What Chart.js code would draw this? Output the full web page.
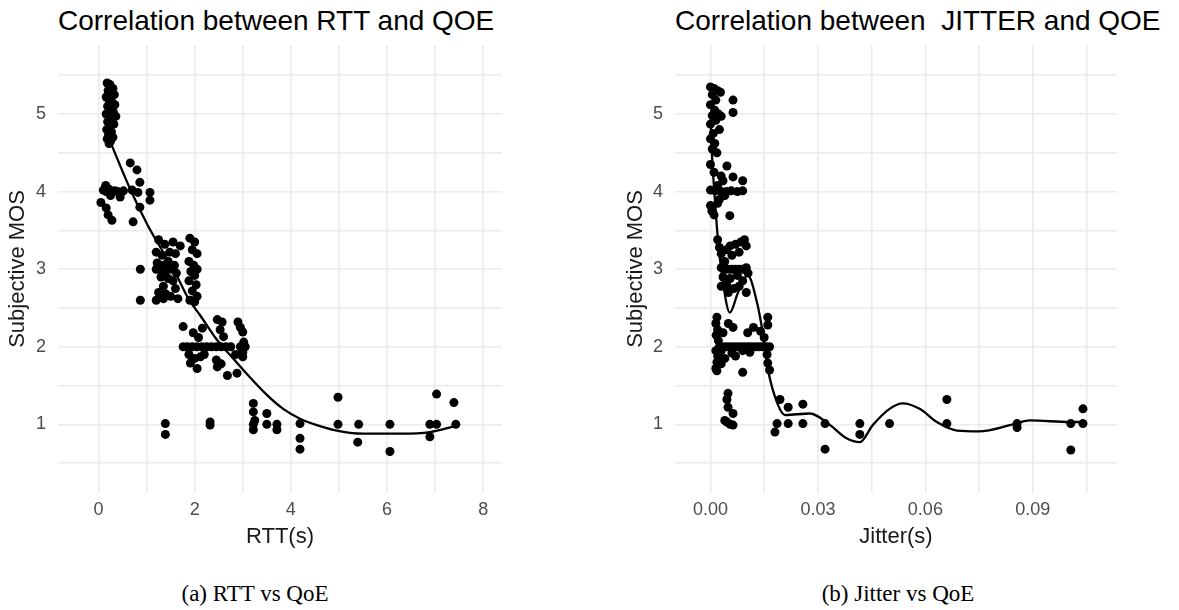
<!DOCTYPE html>
<html>
<head>
<meta charset="utf-8">
<script src="https://cdn.jsdelivr.net/npm/chart.js@4.4.1/dist/chart.umd.min.js"></script>
<style>
  body { margin: 0; background: #fff; width: 1179px; height: 610px; position: relative; overflow: hidden; }
  canvas { position: absolute; top: 0; }
  .title { position: absolute; top: 7px; font: 28px "Liberation Sans", Arial, sans-serif; line-height: 28px; color: #000; white-space: pre; }
  .caption { position: absolute; top: 580px; font: 23px "Liberation Serif", "Times New Roman", serif; line-height: 28px; color: #000; text-align: center; width: 300px; }
</style>
</head>
<body>
<div class="title" style="left:58px">Correlation between RTT and QOE</div>
<div class="title" style="left:675px">Correlation between  JITTER and QOE</div>
<canvas id="rttChart" width="520" height="560" style="left:0px"></canvas>
<canvas id="jitterChart" width="589" height="560" style="left:590px"></canvas>
<div class="caption" style="left:105px">(a) RTT vs QoE</div>
<div class="caption" style="left:748px">(b) Jitter vs QoE</div>
<script>
// tick labels
const rttTicks = [0, 2, 4, 6, 8];
const jitterTicks = ["0.00", "0.03", "0.06", "0.09"];
const mosTicks = [1, 2, 3, 4, 5];

// RTT (s) vs subjective MOS
const rttPoints = [
  [0.18,5.40],[0.24,5.38],[0.30,5.33],[0.20,5.30],[0.26,5.27],[0.33,5.25],[0.16,5.22],[0.22,5.18],
  [0.28,5.15],[0.34,5.12],[0.19,5.10],[0.25,5.05],[0.31,5.02],[0.16,5.00],[0.22,4.98],[0.36,4.97],
  [0.28,4.93],[0.19,4.90],[0.32,4.87],[0.24,4.85],[0.17,4.80],[0.27,4.77],[0.21,4.73],[0.30,4.70],
  [0.18,4.68],[0.25,4.65],[0.22,4.62],
  [0.10,4.02],[0.16,4.00],[0.22,4.03],[0.28,3.99],[0.34,4.01],[0.40,4.00],[0.46,3.98],[0.52,4.01],
  [0.15,4.08],[0.25,3.95],[0.45,3.93],[0.05,3.86],
  [0.66,4.37],[0.80,4.28],[0.86,4.12],[0.70,4.02],[0.82,3.99],[1.07,3.99],[1.07,3.89],[0.86,3.80],
  [0.72,3.61],[0.16,3.79],[0.20,3.70],[0.28,3.63],
  [0.87,3.00],[0.87,2.60],
  [1.25,3.38],[1.38,3.32],[1.55,3.35],[1.20,3.22],[1.32,3.18],[1.48,3.22],[1.60,3.20],[1.22,3.08],
  [1.35,3.05],[1.45,3.10],[1.58,3.05],[1.20,3.00],[1.28,3.00],[1.40,2.98],[1.50,3.00],[1.62,2.95],
  [1.30,2.90],[1.45,2.88],[1.55,2.85],[1.35,2.78],[1.60,2.75],[1.25,2.70],[1.40,2.68],[1.50,2.65],
  [1.20,2.60],[1.35,2.62],[1.65,2.62],[1.70,3.30],
  [1.90,3.40],[2.00,3.35],[1.95,3.25],[2.05,3.20],[1.88,3.10],[1.98,3.05],[2.05,3.00],[1.92,2.97],
  [2.00,2.92],[1.88,2.85],[2.03,2.80],[1.95,2.72],[2.05,2.65],[1.90,2.60],[2.00,2.58],
  [1.76,2.00],[1.85,2.00],[1.95,2.00],[2.05,2.00],[2.15,2.00],[2.25,2.00],[2.35,2.00],[2.45,2.00],
  [2.55,2.00],[2.65,2.00],[2.75,2.00],[2.95,2.00],[3.05,2.00],
  [1.76,2.26],[1.97,2.18],[2.08,2.12],[2.16,2.24],[2.47,2.35],[2.57,2.32],[2.53,2.22],[2.60,2.13],
  [2.90,2.32],[2.95,2.25],[3.00,2.19],[3.02,2.06],[3.00,1.93],[3.00,1.87],[1.91,1.79],[1.88,1.90],
  [2.05,1.72],[2.00,1.85],[2.12,1.87],[2.20,1.90],[2.47,1.74],[2.45,1.83],[2.55,1.78],[2.68,1.63],
  [2.88,1.66],[2.85,1.90],
  [1.39,1.01],[1.39,0.87],[2.32,1.03],[2.32,0.99],[3.22,1.27],[3.22,1.16],[3.22,1.00],[3.22,0.93],
  [3.25,1.05],[3.50,1.14],[3.50,1.00],[3.71,1.00],[3.71,0.93],[4.19,1.01],[4.19,0.82],[4.19,0.68],
  [4.98,1.35],[4.98,1.00],[5.41,1.00],[5.39,0.77],[6.06,1.00],[6.06,0.65],[6.89,1.00],[7.03,1.00],
  [6.89,0.84],[7.03,1.39],[7.39,1.28],[7.43,1.00]
];
const rttSmooth = [
  [0.22,4.68],[0.66,4.03],[1.02,3.57],[1.22,3.35],[1.56,3.00],[1.87,2.62],[2.12,2.40],[2.45,2.10],
  [2.80,1.85],[3.10,1.64],[3.50,1.38],[3.84,1.20],[4.20,1.07],[4.54,0.99],[4.88,0.93],[5.50,0.88],
  [6.27,0.88],[6.89,0.90],[7.43,0.98]
];

// Jitter (s) vs subjective MOS
const jitterPoints = [
  [0.0000,5.35],[0.0010,5.33],[0.0020,5.30],[0.0028,5.28],[0.0005,5.25],[0.0015,5.18],[0.0000,5.12],
  [0.0012,5.05],[0.0022,5.00],[0.0005,4.98],[0.0030,4.97],[0.0015,4.92],[0.0000,4.87],[0.0025,4.80],
  [0.0008,4.75],[0.0000,4.68],[0.0012,4.62],[0.0005,4.55],[0.0018,4.50],[0.0063,5.18],[0.0063,5.02],
  [0.0000,4.35],[0.0010,4.25],[0.0046,4.33],[0.0030,4.20],[0.0063,4.19],[0.0090,4.14],[0.0035,4.14],
  [0.0020,4.08],[0.0000,4.02],[0.0013,4.01],[0.0030,4.00],[0.0045,4.00],[0.0058,4.01],[0.0075,4.00],
  [0.0090,4.01],[0.0040,3.95],[0.0025,3.90],[0.0000,3.82],[0.0004,3.75],[0.0010,3.70],[0.0054,3.69],
  [0.0020,3.85],
  [0.0020,3.38],[0.0025,3.28],[0.0030,3.20],[0.0045,3.25],[0.0055,3.30],[0.0070,3.32],[0.0085,3.35],
  [0.0095,3.38],[0.0100,3.30],[0.0080,3.22],[0.0060,3.18],[0.0040,3.10],[0.0030,3.02],[0.0040,3.00],
  [0.0050,3.00],[0.0060,3.00],[0.0070,3.00],[0.0080,3.00],[0.0090,3.00],[0.0100,3.02],[0.0105,2.95],
  [0.0035,2.90],[0.0055,2.88],[0.0075,2.92],[0.0090,2.85],[0.0045,2.80],[0.0065,2.75],[0.0080,2.78],
  [0.0100,2.70],[0.0050,2.70],[0.0030,2.78],
  [0.0018,2.38],[0.0015,2.30],[0.0020,2.22],[0.0016,2.15],[0.0022,2.08],[0.0015,1.95],[0.0020,1.88],
  [0.0018,1.80],[0.0015,1.72],[0.0018,1.69],[0.0050,2.30],[0.0063,2.25],[0.0035,2.18],[0.0104,2.18],
  [0.0120,2.25],[0.0140,2.20],[0.0160,2.38],[0.0160,2.28],[0.0150,2.12],
  [0.0025,2.00],[0.0035,2.00],[0.0045,2.00],[0.0055,2.00],[0.0065,2.00],[0.0075,2.00],[0.0085,2.00],
  [0.0095,2.00],[0.0105,2.00],[0.0115,2.00],[0.0125,2.00],[0.0135,2.00],[0.0145,2.00],[0.0155,2.00],
  [0.0165,2.00],
  [0.0030,1.95],[0.0060,1.92],[0.0090,1.95],[0.0040,1.85],[0.0030,1.78],[0.0110,1.93],[0.0158,1.90],
  [0.0160,1.79],[0.0165,1.70],[0.0090,1.67],[0.0070,1.88],
  [0.0049,1.40],[0.0046,1.32],[0.0049,1.22],[0.0063,1.14],[0.0046,1.03],[0.0063,0.99],[0.0055,1.00],
  [0.0040,1.05],
  [0.0186,1.01],[0.0180,0.90],[0.0194,1.32],[0.0217,1.22],[0.0217,1.01],[0.0258,1.26],[0.0258,1.01],
  [0.0320,1.01],[0.0320,0.68],[0.0417,1.01],[0.0417,0.87],[0.0500,1.01],[0.0660,1.32],[0.0660,1.01],
  [0.0856,0.96],[0.0856,1.01],[0.1006,1.01],[0.1006,0.67],[0.1040,1.20],[0.1040,1.01]
];
const jitterSmooth = [
  [0.0000,5.00],[0.0004,4.50],[0.0013,3.86],[0.0020,3.43],[0.0035,2.83],[0.0054,2.44],[0.0077,2.70],
  [0.0104,2.92],[0.0130,2.57],[0.0147,2.15],[0.0160,1.72],[0.0186,1.28],[0.0208,1.12],[0.0278,1.14],
  [0.0334,0.99],[0.0380,0.82],[0.0417,0.77],[0.0453,0.99],[0.0500,1.20],[0.0537,1.27],[0.0584,1.20],
  [0.0632,1.03],[0.0688,0.92],[0.0750,0.91],[0.0845,1.00],[0.0892,1.05],[0.1003,1.03],[0.1040,1.03]
];

const toXY = (arr) => arr.map((p) => ({ x: p[0], y: p[1] }));
const tickFont = { family: "Liberation Sans", size: 18 };
const titleFont = { family: "Liberation Sans", size: 22 };
const gridStyle = { color: "#ebebeb", lineWidth: 1.6, drawTicks: false };

function makeChart(el, pts, smooth, opt) {
  return new Chart(el, {
    type: "scatter",
    data: {
      datasets: [
        {
          data: toXY(smooth),
          showLine: true,
          borderColor: "#000",
          borderWidth: 2.3,
          pointRadius: 0,
          cubicInterpolationMode: "monotone",
        },
        {
          data: toXY(pts),
          backgroundColor: "#000",
          borderWidth: 0,
          pointRadius: 4.5,
        },
      ],
    },
    options: {
      responsive: false,
      animation: false,
      layout: { padding: { top: 45, right: opt.right, left: 0, bottom: 0 } },
      plugins: { legend: { display: false }, tooltip: { enabled: false } },
      scales: {
        x: {
          type: "linear",
          min: opt.xMin,
          max: opt.xMax,
          grid: gridStyle,
          border: { display: false },
          ticks: {
            stepSize: opt.xStep,
            includeBounds: false,
            autoSkip: false,
            maxRotation: 0,
            padding: 6,
            color: "#4d4d4d",
            font: tickFont,
            callback: opt.xLabel,
          },
          title: { display: true, text: opt.xTitle, color: "#1a1a1a", font: titleFont, padding: { top: 0, bottom: 10 } },
          afterFit: (s) => { s.height = 67; },
        },
        y: {
          min: 0.115,
          max: 5.89,
          grid: gridStyle,
          border: { display: false },
          ticks: {
            stepSize: 0.5,
            includeBounds: false,
            autoSkip: false,
            padding: 12,
            color: "#4d4d4d",
            font: tickFont,
            callback: (v) => (mosTicks.includes(v) ? String(v) : ""),
          },
          title: { display: true, text: "Subjective MOS", color: "#1a1a1a", font: titleFont, padding: { top: opt.yTitlePad, bottom: 0 } },
          afterFit: (s) => { s.width = opt.yWidth; },
        },
      },
    },
  });
}

makeChart(document.getElementById("rttChart"), rttPoints, rttSmooth, {
  right: 18,
  xMin: -0.842,
  xMax: 8.39,
  xStep: 1,
  xTitle: "RTT(s)",
  xLabel: (v) => (rttTicks.includes(v) ? String(v) : ""),
  yWidth: 58,
  yTitlePad: 5,
});

makeChart(document.getElementById("jitterChart"), jitterPoints, jitterSmooth, {
  right: 62,
  xMin: -0.0099,
  xMax: 0.1135,
  xStep: 0.015,
  xTitle: "Jitter(s)",
  xLabel: (v) => {
    const k = Math.round(v / 0.015);
    return k % 2 === 0 && jitterTicks[k / 2] ? jitterTicks[k / 2] : "";
  },
  yWidth: 85,
  yTitlePad: 33,
});
</script>
</body>
</html>
